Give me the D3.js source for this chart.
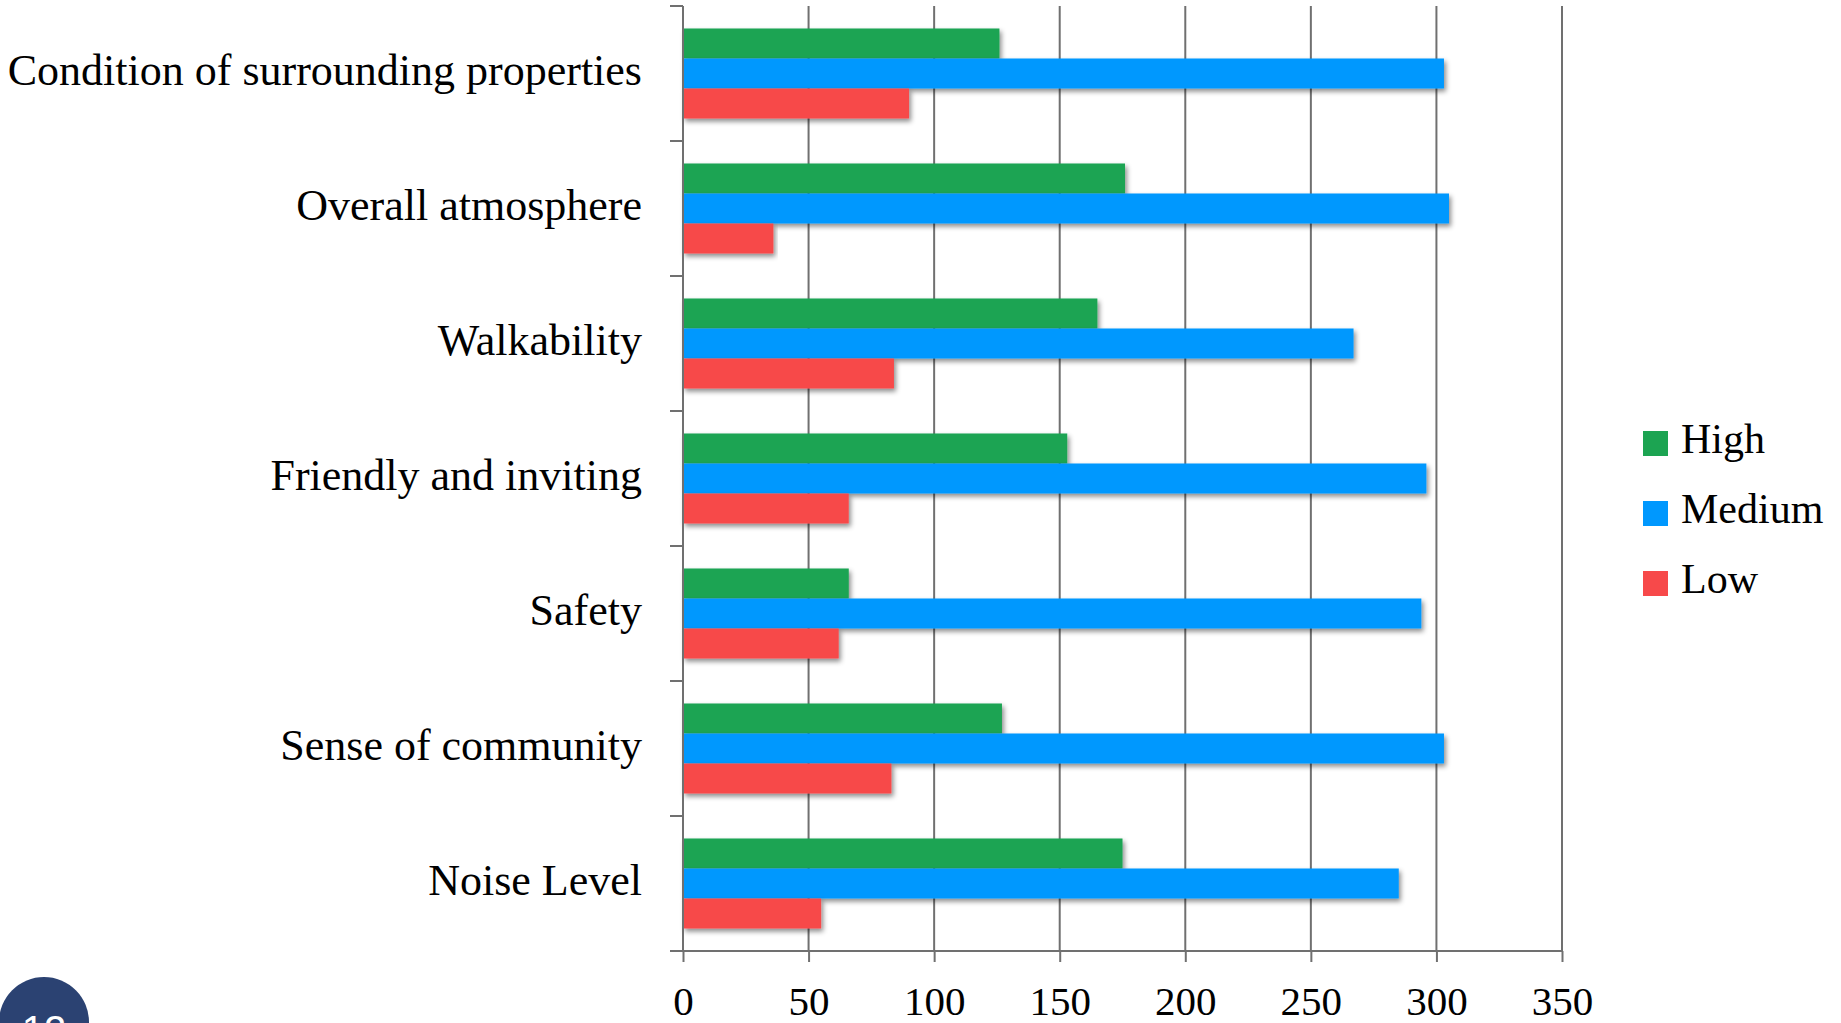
<!DOCTYPE html>
<html>
<head>
<meta charset="utf-8">
<script src="https://cdn.jsdelivr.net/npm/d3@7"></script>
<style>
  html, body { margin: 0; padding: 0; background: #fff; overflow: hidden; }
  svg { display: block; }
</style>
</head>
<body>
<svg id="chart" width="1841" height="1023"></svg>
<script>
const categories = [
  "Condition of surrounding properties",
  "Overall atmosphere",
  "Walkability",
  "Friendly and inviting",
  "Safety",
  "Sense of community",
  "Noise Level"
];
const seriesNames = ["High", "Medium", "Low"];
const highValues   = [126, 176, 165, 153, 66, 127, 175];
const mediumValues = [303, 305, 267, 296, 294, 303, 285];
const lowValues    = [90, 36, 84, 66, 62, 83, 55];
const seriesColors = ["#1ca452", "#0098fe", "#f7494a"];
const xTicks = [0, 50, 100, 150, 200, 250, 300, 350];
const pageNumber = "12";

const seriesValues = [highValues, mediumValues, lowValues];

const svg = d3.select("#chart");
const mLeft = 683, mRight = 1562, mTop = 6, mBottom = 951;
const fontFamily = "'Liberation Serif', 'DejaVu Serif', serif";

const defs = svg.append("defs");
const f = defs.append("filter").attr("id", "shadow")
  .attr("x", "-5%").attr("y", "-30%").attr("width", "110%").attr("height", "180%");
f.append("feDropShadow").attr("dx", 2).attr("dy", 3).attr("stdDeviation", 2.5)
  .attr("flood-color", "#000").attr("flood-opacity", 0.45);

const x = d3.scaleLinear().domain([0, 350]).range([mLeft, mRight]);
const y = d3.scaleBand().domain(categories).range([mTop, mBottom]).paddingInner(0).paddingOuter(0);
const yInner = d3.scaleBand().domain(seriesNames)
  .range([0, y.bandwidth()]).paddingOuter(0.75).paddingInner(0);

const gridColor = "#707070";

// vertical gridlines
svg.append("g").selectAll("line").data(xTicks.slice(1)).join("line")
  .attr("x1", d => x(d)).attr("x2", d => x(d))
  .attr("y1", mTop).attr("y2", mBottom)
  .attr("stroke", gridColor).attr("stroke-width", 2);

// bars
const groups = svg.append("g").selectAll("g").data(categories).join("g")
  .attr("transform", c => `translate(0,${y(c)})`);
groups.selectAll("rect")
  .data((c, i) => seriesNames.map((s, j) => ({ s, v: seriesValues[j][i], color: seriesColors[j] })))
  .join("rect")
  .attr("x", x(0))
  .attr("y", d => yInner(d.s))
  .attr("width", d => x(d.v) - x(0))
  .attr("height", yInner.bandwidth())
  .attr("fill", d => d.color)
  .attr("filter", "url(#shadow)");

// x axis
const xAxis = d3.axisBottom(x).tickValues(xTicks).tickSize(11).tickPadding(24)
  .tickFormat(d3.format("d"));
const gx = svg.append("g").attr("transform", `translate(0,${mBottom})`).call(xAxis);
gx.select(".domain").remove();
gx.append("line").attr("x1", 670).attr("x2", mRight).attr("y1", 0).attr("y2", 0)
  .attr("stroke", gridColor).attr("stroke-width", 2);
gx.selectAll(".tick line").attr("stroke", gridColor).attr("stroke-width", 2);
gx.selectAll(".tick text").attr("fill", "#000")
  .attr("font-family", fontFamily).attr("font-size", 41).attr("dy", "0.71em");

// y axis
const boundaries = categories.map(c => y(c)).concat([mBottom]);
svg.append("line").attr("x1", mLeft).attr("x2", mLeft).attr("y1", mTop).attr("y2", mBottom)
  .attr("stroke", gridColor).attr("stroke-width", 2);
svg.append("g").selectAll("line").data(boundaries).join("line")
  .attr("x1", 670).attr("x2", mLeft).attr("y1", d => d).attr("y2", d => d)
  .attr("stroke", gridColor).attr("stroke-width", 2);

// category labels
svg.append("g").selectAll("text").data(categories).join("text")
  .attr("x", 642).attr("y", c => y(c) + y.bandwidth() / 2)
  .attr("dy", "0.27em")
  .attr("text-anchor", "end")
  .attr("font-family", fontFamily).attr("font-size", 44).attr("fill", "#000")
  .text(c => c);

// legend
const legend = svg.append("g").selectAll("g").data(seriesNames).join("g")
  .attr("transform", (d, i) => `translate(1643,${431 + i * 70})`);
legend.append("rect").attr("width", 25).attr("height", 25)
  .attr("fill", (d, i) => seriesColors[i]);
legend.append("text").attr("x", 38).attr("y", 22)
  .attr("font-family", fontFamily).attr("font-size", 42).attr("fill", "#000")
  .text(d => d);

// page number badge (cut off by the bottom edge, as in the original slide)
svg.append("circle").attr("cx", 44).attr("cy", 1022).attr("r", 45).attr("fill", "#2b4272");
svg.append("text").attr("x", 44).attr("y", 1044).attr("text-anchor", "middle")
  .attr("font-family", "'Liberation Sans', Arial, sans-serif").attr("font-size", 40)
  .attr("fill", "#fff").text(pageNumber);
</script>
</body>
</html>
